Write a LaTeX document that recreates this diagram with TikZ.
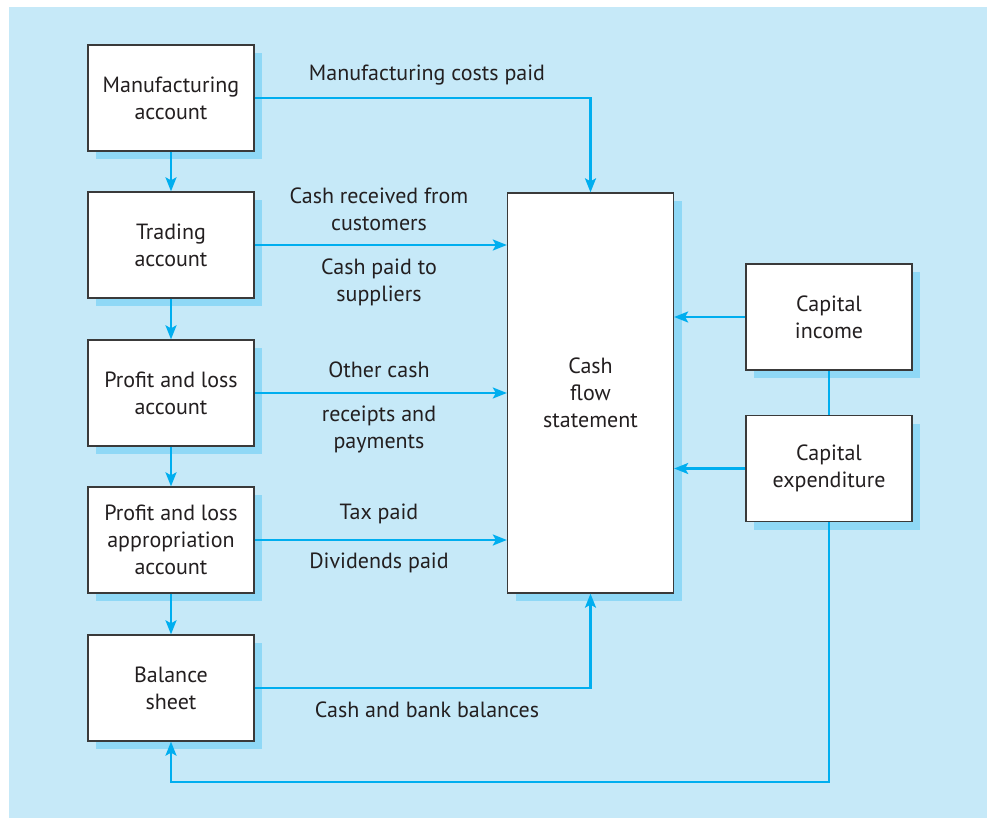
\documentclass[tikz,border=0pt]{standalone}
\usepackage{fontspec}
\setmainfont{PT Sans}
\usetikzlibrary{arrows.meta,shadows}
\definecolor{bgc}{HTML}{C6E9F8}
\definecolor{shc}{HTML}{8FD8F6}
\definecolor{cyc}{HTML}{00AEEF}
\definecolor{txc}{HTML}{231F20}
\definecolor{brc}{HTML}{3A3A3A}
\tikzset{
  box/.style={draw=brc, line width=1.3pt, fill=white, text=txc, align=center,
    minimum width=166pt, minimum height=106pt, inner sep=0pt,
    font=\fontsize{22}{27}\selectfont,
    general shadow={fill=shc, shadow xshift=8pt, shadow yshift=-8pt}},
  lab/.style={text=txc, align=center, inner sep=0pt, font=\fontsize{22}{27}\selectfont},
  arr/.style={draw=cyc, line width=2.4pt, -{Stealth[length=14pt,width=11pt,inset=3pt]}},
  ln/.style={draw=cyc, line width=2.4pt}
}
\begin{document}
\begin{tikzpicture}[x=1pt,y=-1pt]
\useasboundingbox (0,0) rectangle (987,818);
\fill[bgc] (9,7) rectangle (987,818);
\node[box] (man) at (171,98) {Manufacturing\\account};
\node[box] (trad) at (171,245) {Trading\\account};
\node[box] (pl) at (171,393) {Profit and loss\\account};
\node[box] (app) at (171,540) {Profit and loss\\appropriation\\account};
\node[box] (bal) at (171,688) {Balance\\sheet};
\node[box, minimum height=400pt] (cfs) at (590.5,393) {Cash\\flow\\statement};
\node[box] (ci) at (829,317) {Capital\\income};
\node[box] (ce) at (829,468.5) {Capital\\expenditure};
\coordinate (c1) at (829,782);
\draw[arr] (man.east) -| (cfs.north);
\draw[arr] (trad.east) -- (trad.east -| cfs.west);
\draw[arr] (pl.east) -- (pl.east -| cfs.west);
\draw[arr] (app.east) -- (app.east -| cfs.west);
\draw[arr] (bal.east) -| (cfs.south);
\draw[arr] (ci.west) -- (ci.west -| cfs.east);
\draw[arr] (ce.west) -- (ce.west -| cfs.east);
\draw[ln] (ci.south) -- (ce.north);
\draw[arr] (ce.south) -- (c1) -| (bal.south);
\draw[arr] (man.south) -- (trad.north);
\draw[arr] (trad.south) -- (pl.north);
\draw[arr] (pl.south) -- (app.north);
\draw[arr] (app.south) -- (bal.north);
\node[lab] (l1) at (427,75) {Manufacturing costs paid};
\node[lab] (l2) at (379,209) {Cash received from\\customers};
\node[lab] (l3) at (379,282) {Cash paid to\\suppliers};
\node[lab] (l4) at (379,370) {Other cash};
\node[lab] (l5) at (379,429) {receipts and\\payments};
\node[lab] (l6) at (379,514) {Tax paid};
\node[lab] (l7) at (379,563) {Dividends paid};
\node[lab] (l8) at (427,710) {Cash and bank balances};
\end{tikzpicture}
\end{document}
